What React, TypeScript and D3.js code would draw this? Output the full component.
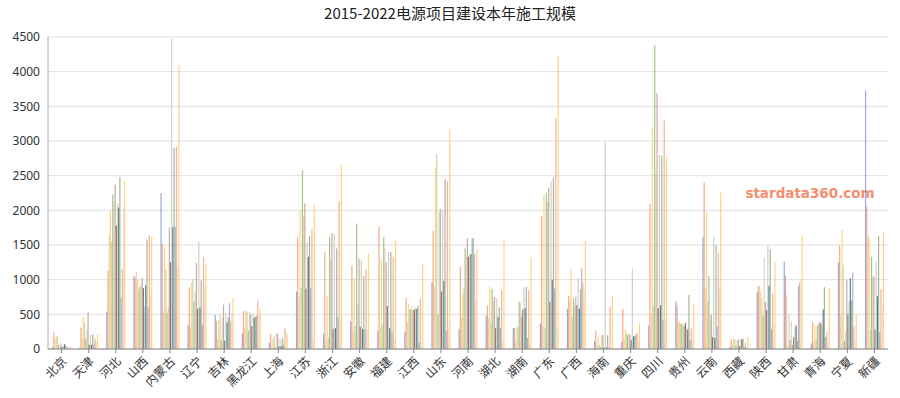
import React from 'react';
import * as d3 from 'd3';

const width = 900;
const height = 398;
const margin = { top: 37, right: 12, bottom: 49, left: 48 };

const provinces = [
  '北京', '天津', '河北', '山西', '内蒙古', '辽宁', '吉林', '黑龙江', '上海', '江苏', '浙江',
  '安徽', '福建', '江西', '山东', '河南', '湖北', '湖南', '广东', '广西', '海南', '重庆',
  '四川', '贵州', '云南', '西藏', '陕西', '甘肃', '青海', '宁夏', '新疆',
];

const yTicks = [0, 500, 1000, 1500, 2000, 2500, 3000, 3500, 4000, 4500];

const colors = [
  '#7d91d8', '#f29468', '#f7bca2', '#fdcb66', '#b3d69a', '#86b873', '#d9c8b4', '#c09484',
  '#7e4f38', '#c4c4bc', '#2a5f6c', '#8ba684', '#89a2c8', '#f39e80', '#e9dac6', '#ffc960',
];

// one row per province, 16 values each
const beijing = [30, 240, 150, 180, 190, 60, 20, 80, 30, 40, 70, 50, 30, 20, 40, 30];
const tianjin = [20, 310, 160, 460, 380, 150, 280, 530, 60, 200, 60, 210, 80, 150, 100, 210];
const hebei = [540, 1130, 1650, 1990, 1550, 2230, 2130, 2370, 1780, 2100, 2040, 2480, 740, 1150, 2050, 2430];
const shanxi = [1050, 1030, 1120, 1000, 860, 900, 950, 1020, 880, 610, 920, 1580, 600, 1640, 780, 1620];
const neimenggu = [2250, 1520, 540, 1470, 1150, 520, 610, 1750, 1250, 4480, 1760, 2900, 1760, 2920, 1200, 4100];
const liaoning = [340, 890, 310, 960, 1010, 680, 820, 1240, 580, 1550, 600, 990, 350, 1320, 910, 1230];
const jilin = [490, 400, 150, 420, 500, 130, 460, 640, 120, 510, 380, 460, 660, 400, 520, 730];
const heilongjiang = [230, 550, 300, 550, 540, 260, 530, 500, 330, 510, 450, 470, 480, 700, 480, 600];
const shanghai = [90, 220, 40, 150, 190, 20, 230, 220, 40, 140, 40, 160, 60, 300, 260, 210];
const jiangsu = [830, 1620, 750, 2000, 880, 2580, 1920, 2100, 870, 1540, 1330, 1630, 880, 1730, 140, 2080];
const zhejiang = [220, 1400, 150, 770, 170, 1610, 1290, 1670, 290, 1660, 300, 1450, 460, 2130, 450, 2660];
const anhui = [400, 1200, 270, 1020, 330, 1810, 650, 1300, 320, 1280, 290, 1050, 280, 1150, 270, 1380];
const fujian = [260, 1760, 310, 1300, 350, 1610, 1450, 1250, 620, 1400, 300, 1400, 250, 1330, 150, 1560];
const jiangxi = [250, 740, 390, 650, 580, 570, 620, 560, 570, 600, 580, 620, 90, 730, 30, 1230];
const shandong = [960, 1700, 900, 2620, 2820, 500, 1980, 2020, 830, 2000, 980, 2450, 260, 2420, 290, 3170];
const henan = [290, 1180, 450, 790, 880, 1450, 1350, 1600, 1330, 1360, 1370, 1590, 1600, 1370, 700, 1430];
const hubei = [480, 630, 440, 900, 390, 870, 690, 750, 300, 730, 460, 600, 300, 850, 100, 1590];
const hunan = [300, 300, 120, 320, 320, 680, 670, 460, 570, 890, 590, 900, 160, 850, 80, 1320];
const guangdong = [370, 1920, 330, 2220, 300, 2250, 2120, 2320, 680, 2420, 1000, 2470, 870, 3330, 300, 4220];
const guangxi = [580, 770, 700, 1150, 470, 730, 630, 750, 630, 1020, 580, 860, 1160, 950, 830, 1560];
const hainan = [110, 260, 50, 180, 60, 30, 210, 200, 20, 2980, 20, 200, 20, 620, 30, 770];
const chongqing = [100, 580, 160, 280, 230, 200, 220, 210, 130, 1160, 180, 190, 210, 230, 110, 370];
const sichuan = [340, 2090, 520, 3190, 630, 4380, 2530, 3690, 590, 2800, 630, 2790, 420, 3300, 420, 2770];
const guizhou = [680, 630, 380, 400, 370, 360, 350, 330, 380, 300, 280, 780, 130, 300, 130, 640];
const yunnan = [1620, 2400, 870, 1980, 690, 1050, 480, 500, 170, 1620, 160, 1500, 320, 1390, 870, 2260];
const xizang = [30, 140, 60, 150, 140, 60, 130, 140, 40, 140, 140, 150, 30, 90, 30, 170];
const shaanxi = [820, 900, 910, 830, 730, 480, 1320, 680, 560, 1500, 910, 1440, 280, 800, 350, 1250];
const gansu = [1260, 1060, 780, 50, 500, 130, 400, 60, 170, 310, 340, 120, 910, 960, 1000, 1640];
const qinghai = [80, 390, 110, 340, 130, 340, 370, 390, 370, 320, 570, 890, 170, 240, 100, 880];
const ningxia = [1250, 1490, 490, 1720, 1210, 120, 250, 1000, 500, 690, 1020, 700, 1100, 320, 120, 500];
const xinjiang = [3730, 2050, 1640, 1600, 270, 1330, 1060, 1040, 280, 1260, 760, 1630, 240, 860, 640, 1680];

const values = [
  beijing, tianjin, hebei, shanxi, neimenggu, liaoning, jilin, heilongjiang, shanghai, jiangsu, zhejiang,
  anhui, fujian, jiangxi, shandong, henan, hubei, hunan, guangdong, guangxi, hainan, chongqing,
  sichuan, guizhou, yunnan, xizang, shaanxi, gansu, qinghai, ningxia, xinjiang,
];

const App: React.FC = () => {
  const x0 = d3
    .scaleBand<string>()
    .domain(provinces)
    .range([margin.left, width - margin.right])
    .paddingInner(0.3)
    .paddingOuter(0.15);
  const x1 = d3
    .scaleBand<number>()
    .domain(d3.range(colors.length))
    .range([0, x0.bandwidth()]);
  const y = d3
    .scaleLinear()
    .domain([0, 4500])
    .range([height - margin.bottom, margin.top]);

  const step = x0.step();
  const center = (i: number) => margin.left + step * i + step / 2;
  const groupLeft = (i: number) => center(i) - x0.bandwidth() / 2;

  return (
    <svg width={width} height={height} style={{ position: 'absolute', top: 0, left: 0, background: '#fff' }}>
      <text x={width / 2} y={19} textAnchor="middle" fontSize={15} fill="#222"
        fontFamily="'Noto Sans CJK SC', sans-serif">
        2015-2022电源项目建设本年施工规模
      </text>
      {yTicks.map(t => (
        <g key={t}>
          <line x1={margin.left} x2={width - margin.right} y1={y(t)} y2={y(t)} stroke="#e0e0e0" strokeWidth={1} />
          <text x={margin.left - 8} y={y(t)} dy="0.35em" textAnchor="end" fontSize={12} fill="#333"
            fontFamily="'Noto Sans', sans-serif">{t}</text>
        </g>
      ))}
      <text x={810} y={198} textAnchor="middle" fontSize={13.5} fontWeight="bold" fill="#f4845f"
        fontFamily="'DejaVu Sans', sans-serif" opacity={0.9}>stardata360.com</text>
      {values.map((row, i) => (
        <g key={provinces[i]}>
          {row.map((v, j) => (
            <rect key={j} x={groupLeft(i) + (x1(j) ?? 0)} y={y(v)} width={x1.bandwidth()}
              height={y(0) - y(v)} fill={colors[j]} opacity={0.8} />
          ))}
        </g>
      ))}
      <line x1={margin.left} x2={margin.left} y1={margin.top} y2={y(0)} stroke="#aaa" />
      <line x1={margin.left} x2={width - margin.right} y1={y(0)} y2={y(0)} stroke="#888" />
      {provinces.map((p, i) => (
        <g key={p} transform={`translate(${center(i)},${y(0)})`}>
          <line y1={0} y2={4} stroke="#888" />
          <text transform="translate(3,10) rotate(-45)" textAnchor="end" dy="0.35em" fontSize={12} fill="#333"
            fontFamily="'Noto Sans CJK SC', sans-serif">{p}</text>
        </g>
      ))}
    </svg>
  );
};

export default App;
